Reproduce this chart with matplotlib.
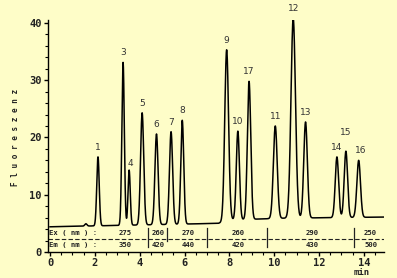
import numpy as np
import matplotlib
matplotlib.use("Agg")
import matplotlib.pyplot as plt

# peaks (time in min, absolute top in Fluoreszenz units)
peak_labels = ['1', '3', '4', '5', '6', '7', '8', '9', '10', '17', '11', '12', '13', '14', '15', '16']
peak_times = [2.14, 3.26, 3.53, 4.11, 4.75, 5.40, 5.90, 7.88, 8.38, 8.88, 10.05, 10.85, 11.40, 12.80, 13.20, 13.77]
peak_tops = [16.6, 33.1, 14.3, 24.3, 20.6, 21.0, 23.0, 35.3, 21.1, 29.8, 22.0, 40.8, 22.7, 16.6, 17.6, 16.0]
peak_sigmas = [0.055, 0.055, 0.05, 0.07, 0.07, 0.07, 0.065, 0.085, 0.07, 0.075, 0.085, 0.1, 0.08, 0.075, 0.075, 0.08]

# drifting baseline, read at a few points
base_t = [0.0, 2.5, 7.5, 8.1, 10.4, 14.9]
base_v = [4.4, 4.6, 5.0, 5.6, 5.9, 6.1]

# Ex / Em wavelength programme
prog_bounds = [4.375, 5.22, 7.0, 9.69, 13.57]
ex_nm = ['275', '260', '270', '260', '290', '250']
em_nm = ['350', '420', '440', '420', '430', '500']

BG = '#fefdc8'

def chromatogram(t):
    base = np.interp(t, base_t, base_v)
    y = base.copy()
    for tr, top, s in zip(peak_times, peak_tops, peak_sigmas):
        amp = top - np.interp(tr, base_t, base_v)
        y += amp * np.exp(-0.5 * ((t - tr) / s) ** 2)
    # tiny bump before peak 1
    y += 0.4 * np.exp(-0.5 * ((t - 1.6) / 0.05) ** 2)
    return y

def main():
    fig = plt.figure(figsize=(3.97, 2.78), dpi=100, facecolor=BG)
    ax = fig.add_axes([48 / 397, 26 / 278, 336 / 397, 232 / 278])
    ax.set_facecolor(BG)

    t = np.linspace(0, 14.9, 3000)
    ax.plot(t, chromatogram(t), color='black', lw=1.1)

    for lab, tr, top in zip(peak_labels, peak_times, peak_tops):
        dx, dy = 0.0, 0.9
        if lab == '4':
            dx, dy = 0.06, 0.3
        if lab == '15':
            dy = 2.5
        if lab == '16':
            dx = 0.1
        ax.text(tr + dx, top + dy, lab, ha='center', va='bottom', fontsize=6.5,
                color='#333333', family='DejaVu Sans')

    # Ex / Em table
    mono = dict(family='DejaVu Sans Mono', fontweight='bold', fontsize=5.2, color='#222222')
    ax.text(-0.05, 3.3, 'Ex ( nm ) :', va='center', ha='left', **mono)
    ax.text(-0.05, 1.15, 'Em ( nm ) :', va='center', ha='left', **mono)
    ax.plot([-0.09, 14.9], [2.25, 2.25], color='#222222', lw=0.8, ls=(0, (4, 2)))
    for i, b in enumerate(prog_bounds):
        lo = 2.0 if i == 1 else 0.9
        ax.plot([b, b], [lo, 4.2], color='#222222', lw=0.9)
    text_t = [3.35, 4.82, 6.16, 8.38, 11.7, 14.3]
    for tx, ex, em in zip(text_t, ex_nm, em_nm):
        ax.text(tx, 3.3, ex, ha='center', va='center', **mono)
        ax.text(tx, 1.15, em, ha='center', va='center', **mono)

    ax.set_xlim(-0.09, 14.9)
    ax.set_ylim(0, 40.5)
    for s in ['top', 'right']:
        ax.spines[s].set_visible(False)
    for s in ['left', 'bottom']:
        ax.spines[s].set_linewidth(1.0)
    ax.set_xticks(range(0, 15, 2))
    ax.set_xticks(np.arange(0, 14.9, 0.5), minor=True)
    ax.set_yticks(range(0, 41, 10))
    ax.set_yticks(range(0, 41, 2), minor=True)
    ax.tick_params(which='major', length=3, width=1.0, labelsize=7.5, pad=1.5)
    ax.tick_params(axis='x', which='major', pad=1)
    ax.tick_params(which='minor', length=2, width=0.8)
    for lbl in ax.get_xticklabels() + ax.get_yticklabels():
        lbl.set_fontweight('bold')
        lbl.set_family('DejaVu Sans Mono')
        lbl.set_color('#222222')

    fig.text(15 / 397, 1 - 137 / 278, 'F l u o r e s z e n z', rotation=90, ha='center', va='center',
             family='DejaVu Sans Mono', fontweight='bold', fontsize=5.5, color='#222222')
    fig.text(362 / 397, 1 - 272.5 / 278, 'min', ha='center', va='center',
             family='DejaVu Sans Mono', fontweight='bold', fontsize=6.5, color='#222222')

    fig.savefig('out.png', dpi=100, facecolor=BG)

if __name__ == "__main__":
    main()
